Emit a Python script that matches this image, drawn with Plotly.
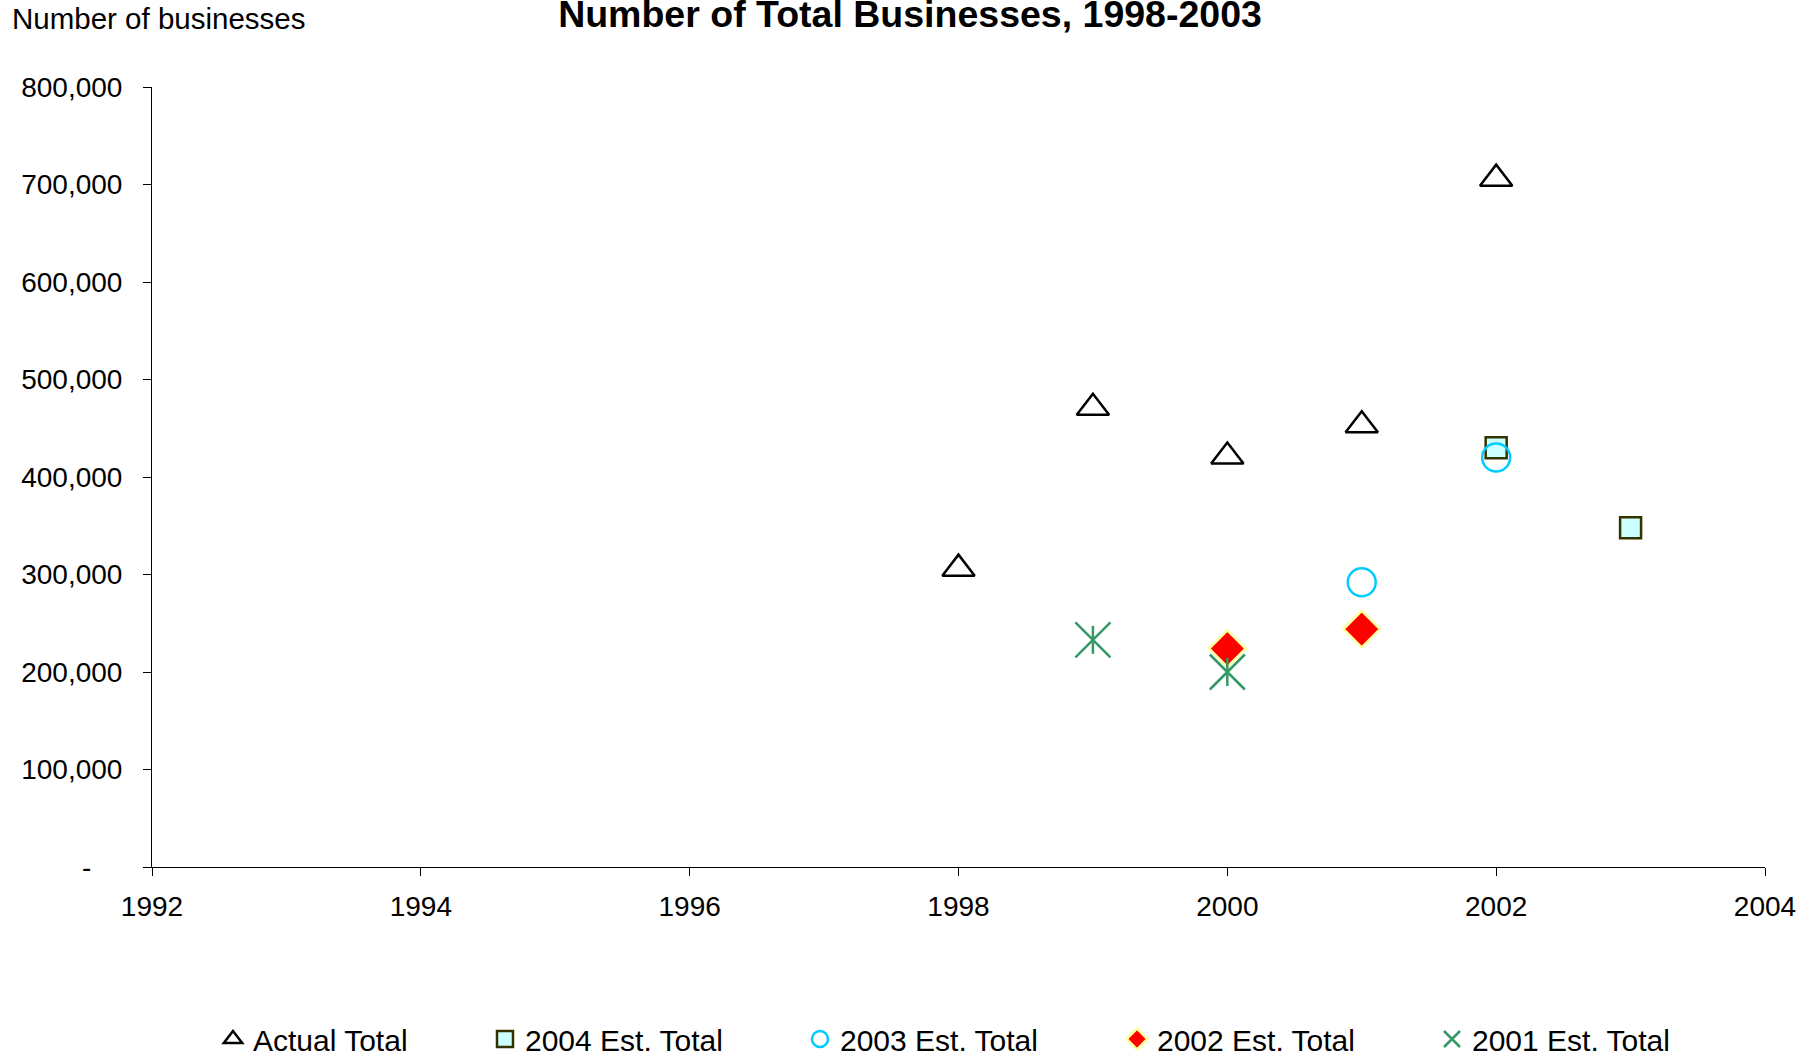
import plotly.graph_objects as go

# ---- data ----
actual_years = [1998, 1999, 2000, 2001, 2002]
actual_total = [306000, 471000, 421000, 453000, 706000]

est2004_years = [2002, 2003]
est2004_total = [430000, 348000]

est2003_years = [2001, 2002]
est2003_total = [292000, 420000]

est2002_years = [2000, 2001]
est2002_total = [224000, 244000]

est2001_years = [1999, 2000]
est2001_total = [233000, 200000]

x_ticks = [1992, 1994, 1996, 1998, 2000, 2002, 2004]
y_ticks = [0, 100000, 200000, 300000, 400000, 500000, 600000, 700000, 800000]
y_ticktext = ["-\u00a0\u00a0\u00a0\u00a0", "100,000", "200,000", "300,000", "400,000",
              "500,000", "600,000", "700,000", "800,000"]

title_text = "Number of Total Businesses, 1998-2003"
y_title_text = "Number of businesses"

FONT = "Liberation Sans, Arial, sans-serif"
W, H = 1820, 1058

fig = go.Figure()

fig.add_trace(go.Scatter(
    x=actual_years, y=actual_total, mode="markers", name="Actual Total", legend="legend",
    marker=dict(symbol="triangle-up-open", size=28, color="black",
                line=dict(color="black", width=2.5)),
))
fig.add_trace(go.Scatter(
    x=est2004_years, y=est2004_total, mode="markers", name="2004 Est. Total", legend="legend2",
    marker=dict(symbol="square", size=21, color="#CCFFFF",
                line=dict(color="#333300", width=2.5)),
))
fig.add_trace(go.Scatter(
    x=est2003_years, y=est2003_total, mode="markers", name="2003 Est. Total", legend="legend3",
    marker=dict(symbol="circle-open", size=28, color="#00CCFF",
                line=dict(color="#00CCFF", width=2.5)),
))
fig.add_trace(go.Scatter(
    x=est2002_years, y=est2002_total, mode="markers", name="2002 Est. Total", legend="legend4",
    marker=dict(symbol="diamond", size=28, color="#FF0000",
                line=dict(color="#FFFF99", width=2.5)),
))
fig.add_trace(go.Scatter(
    x=est2001_years, y=est2001_total, mode="markers", name="2001 Est. Total", legend="legend5",
    legendgroup="e2001",
    marker=dict(symbol="x-thin-open", size=35, color="#339966",
                line=dict(color="#339966", width=2.5)),
))
fig.add_trace(go.Scatter(
    x=est2001_years, y=est2001_total, mode="markers", name="2001 Est. Total", legend="legend5",
    legendgroup="e2001", showlegend=False, hoverinfo="skip",
    marker=dict(symbol="line-ns-open", size=20, color="#339966",
                line=dict(color="#339966", width=2.5)),
))


def leg(sym_x):
    return dict(orientation="h", x=(sym_x - 19) / W, xref="container", xanchor="left",
                y=1 - 1039 / H, yref="container", yanchor="middle",
                itemwidth=30, font=dict(family=FONT, size=30, color="black"),
                bgcolor="rgba(0,0,0,0)", borderwidth=0)


fig.update_layout(
    width=W, height=H,
    margin=dict(l=152, r=55, t=87, b=191),
    paper_bgcolor="white", plot_bgcolor="white",
    font=dict(family=FONT, size=28, color="black"),
    title=dict(text="<b>" + title_text + "</b>", x=0.5, xref="container", xanchor="center",
               y=1 - 14 / H, yref="container", yanchor="middle",
               font=dict(family=FONT, size=37.5, color="black")),
    showlegend=True,
    legend=leg(232), legend2=leg(504), legend3=leg(819), legend4=leg(1136), legend5=leg(1451),
    annotations=[dict(text=y_title_text, xref="paper", yref="paper",
                      x=(10 - 152) / 1613, y=(867 - 18) / 780,
                      xanchor="left", yanchor="middle", showarrow=False,
                      font=dict(family=FONT, size=29.5, color="black"))],
)

fig.update_xaxes(range=[1992, 2004], tickvals=x_ticks, showgrid=False, zeroline=False,
                 showline=True, linecolor="black", linewidth=1,
                 ticks="outside", ticklen=8, tickcolor="black", tickwidth=1,
                 ticklabelstandoff=6, tickfont=dict(family=FONT, size=28, color="black"))
fig.update_yaxes(range=[0, 800000], tickvals=y_ticks, ticktext=y_ticktext,
                 showgrid=False, zeroline=False,
                 showline=True, linecolor="black", linewidth=1,
                 ticks="outside", ticklen=8, tickcolor="black", tickwidth=1,
                 ticklabelstandoff=15, tickfont=dict(family=FONT, size=28, color="black"))

fig.write_html("out.html", config={"displayModeBar": False},
               post_script="document.body.style.margin='0';document.body.style.overflow='hidden';")
